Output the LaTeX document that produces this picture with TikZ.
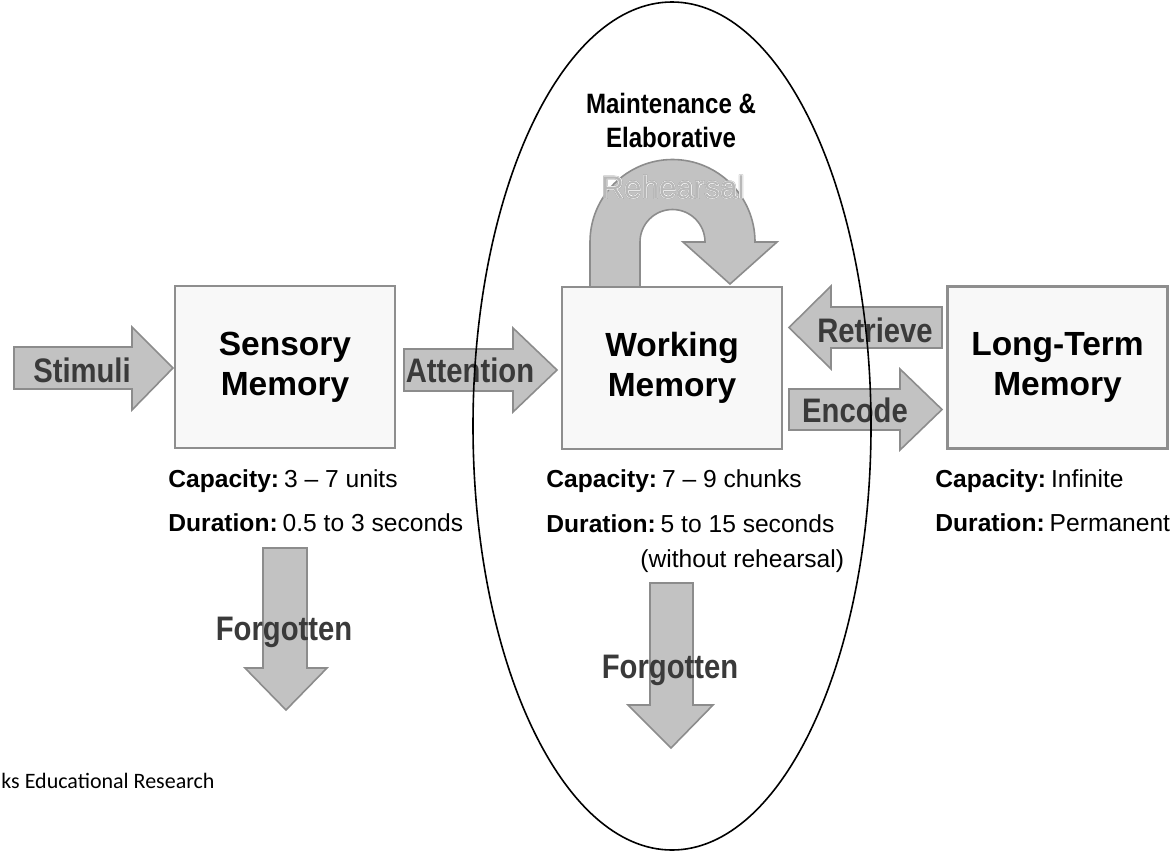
\documentclass[tikz,border=0pt]{standalone}
\usepackage{fontspec}
\setmainfont{Liberation Sans}
\newfontfamily\narrowsans[FakeStretch=0.86]{Liberation Sans}
\newfontfamily\halosans[FakeBold=3]{Liberation Sans}
\newfontfamily\rimsans[FakeBold=4.5]{Liberation Sans}
\newfontfamily\notefont{Carlito}

\definecolor{boxedge}{HTML}{8E8E8E}
\definecolor{boxfill}{HTML}{F8F8F8}
\definecolor{arrowfill}{HTML}{C2C2C2}
\definecolor{arrowedge}{HTML}{8C8C8C}
\definecolor{labelgrey}{HTML}{3A3A3A}
\definecolor{rehearsegrey}{HTML}{B8B8B8}
\definecolor{rimgrey}{HTML}{8A8A8A}

\tikzset{memory box/.style={draw=boxedge,fill=boxfill,line width=1.2pt,minimum width=110pt,minimum height=81pt,align=center,inner sep=0pt,font=\bfseries\fontsize{16.75}{20}\selectfont},
block arrow/.style={draw=arrowedge,fill=arrowfill,line width=0.8pt,line join=miter},
arrow label/.style={font=\narrowsans\bfseries\fontsize{17}{17}\selectfont,text=labelgrey,anchor=base,inner sep=0pt},
info line/.style={font=\fontsize{12.3}{14}\selectfont,anchor=base west,inner sep=0pt},
loop title/.style={font=\narrowsans\bfseries\fontsize{14}{14}\selectfont,anchor=base,inner sep=0pt},
rehearse rim/.style={font=\rimsans\fontsize{15.7}{16}\selectfont,text=rimgrey,anchor=base,inner sep=0pt},
rehearse halo/.style={font=\halosans\fontsize{15.7}{16}\selectfont,text=white,anchor=base,inner sep=0pt},
rehearse text/.style={font=\fontsize{15.7}{16}\selectfont,text=rehearsegrey,anchor=base,inner sep=0pt},
focus ring/.style={draw=black,line width=0.8pt},
source note/.style={font=\notefont\fontsize{11}{12}\selectfont,anchor=base west,inner sep=0pt}}

\begin{document}
\begin{tikzpicture}[x=0.5pt,y=-0.5pt]
\useasboundingbox (0,0) rectangle (1176,851);

%% Coordinates of the boxes.
\coordinate (sm) at (285,367);
\coordinate (wm) at (672,368);
\coordinate (ltm) at (1057.5,367.5);

%% memory boxes
\node [memory box] (sensory) at (sm) {Sensory\\Memory};
\node [memory box] (working) at (wm) {Working\\Memory};
\node [memory box] (longterm) at (ltm) {Long-Term\\Memory};

%% block arrows
\draw [block arrow] (14,347) -- (132,347) -- (132,327) -- (173,368) -- (132,410) -- (132,389) -- (14,389) -- cycle;
\draw [block arrow] (404,349) -- (513,349) -- (513,328) -- (557,370) -- (513,412) -- (513,391) -- (404,391) -- cycle;
\draw [block arrow] (942,307) -- (831,307) -- (831,286) -- (789,327.5) -- (831,369) -- (831,348) -- (942,348) -- cycle;
\draw [block arrow] (789,389) -- (900,389) -- (900,369) -- (942,409.5) -- (900,450) -- (900,430) -- (789,430) -- cycle;
\draw [block arrow] (263,548) -- (307,548) -- (307,668) -- (327,668) -- (286,710) -- (245,668) -- (263,668) -- cycle;
\draw [block arrow] (650,583) -- (693,583) -- (693,705) -- (713,705) -- (671,748) -- (628,705) -- (650,705) -- cycle;

%% rehearsal loop
\draw [block arrow] (590,287) -- (590,242) arc [start angle=180,end angle=0,radius=41.25pt]
  -- (777,242) -- (730,284) -- (683,242) -- (705,242)
  arc [start angle=0,end angle=180,radius=16.25pt] -- (640,287) -- cycle;

%% arrow labels
\node [arrow label] (stimuli) at (82,382) {Stimuli};
\node [arrow label] (attention) at (470,382) {Attention};
\node [arrow label] (retrieve) at (875,342) {Retrieve};
\node [arrow label] (encode) at (855,422) {Encode};
\node [arrow label] (forgot sm) at (284,640) {Forgotten};
\node [arrow label] (forgot wm) at (670,678) {Forgotten};

\node [rehearse rim] (rehearsal rim) at (673,198) {Rehearsal};
\node [rehearse halo] (rehearsal halo) at (673,198) {Rehearsal};
\node [rehearse text] (rehearsal) at (673,198) {Rehearsal};
\node [loop title] (maintenance) at (671,113) {Maintenance \&};
\node [loop title] (elaborative) at (671,147) {Elaborative};

%% capacity and duration
\node [info line] (sm cap) at (168,487) {\textbf{Capacity:}\kern2.5pt3 – 7 units};
\node [info line] (sm dur) at (168,531) {\textbf{Duration:}\kern2.5pt0.5 to 3 seconds};
\node [info line] (wm cap) at (546,487) {\textbf{Capacity:}\kern2.5pt7 – 9 chunks};
\node [info line] (wm dur) at (546,532) {\textbf{Duration:}\kern2.5pt5 to 15 seconds};
\node [info line] (wm note) at (640,567) {(without rehearsal)};
\node [info line] (ltm cap) at (935,487) {\textbf{Capacity:}\kern2.5pt Infinite};
\node [info line] (ltm dur) at (935,531) {\textbf{Duration:}\kern2.5pt Permanent};

%% working memory focus
\draw [focus ring] (672,426) ellipse [x radius=99.5pt,y radius=212pt];

\node [source note] (source) at (1,788) {ks Educational Research};

\end{tikzpicture}
\end{document}
